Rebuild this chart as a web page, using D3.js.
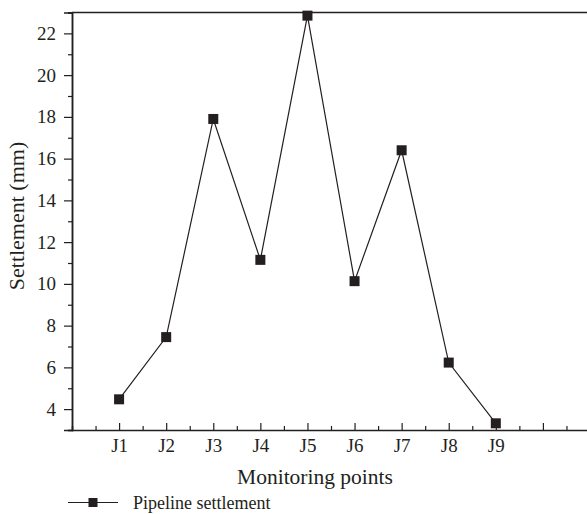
<!DOCTYPE html>
<html>
<head>
<meta charset="utf-8">
<script src="https://cdn.jsdelivr.net/npm/d3@7"></script>
<style>
  body { margin: 0; background: #fff; }
  text { font-family: "Liberation Serif", "DejaVu Serif", serif; fill: #231f20; }
</style>
</head>
<body>
<div id="chart"></div>
<script>
// monitoring points and measured settlement (mm)
const points = ["J1", "J2", "J3", "J4", "J5", "J6", "J7", "J8", "J9"];
const settlement = [4.47, 7.45, 17.9, 11.15, 22.85, 10.13, 16.4, 6.23, 3.32];
const yTicks = [4, 6, 8, 10, 12, 14, 16, 18, 20, 22];

const width = 587, height = 514;
const ink = "#231f20";

const svg = d3.select("#chart").append("svg")
    .attr("width", width)
    .attr("height", height);

// x: category index, 0 at left axis, plot runs past the right edge
const x = d3.scaleLinear().domain([0, 11]).range([72, 590]);
const y = d3.scaleLinear().domain([3, 23]).range([430, 12.5]);

const data = points.map((p, i) => ({ name: p, idx: i + 1, value: settlement[i] }));

// minor ticks
const xMinor = d3.range(0.5, 11, 1);
const yMinor = d3.range(3, 24, 2);

// bottom axis: ticks pointing inward
const gx = svg.append("g").attr("transform", `translate(0,${y(3)})`);
gx.call(d3.axisBottom(x).tickValues(xMinor).tickSize(-4).tickFormat(""));
gx.append("g").call(d3.axisBottom(x)
    .tickValues(d3.range(1, 11))
    .tickSize(-7)
    .tickPadding(9)
    .tickFormat(d => points[d - 1] || ""));
gx.selectAll(".domain").attr("stroke", ink).attr("stroke-width", 1.5);
gx.selectAll(".tick line").attr("stroke", ink).attr("stroke-width", 1.2);
gx.selectAll("text").attr("font-size", 19).attr("dy", "0.71em");
gx.selectAll(".domain").filter((d, i) => i > 0).remove();

// left axis: ticks pointing outward
const gy = svg.append("g").attr("transform", `translate(${x(0)},0)`);
gy.call(d3.axisLeft(y).tickValues(yMinor).tickSize(4).tickFormat(""));
gy.append("g").call(d3.axisLeft(y)
    .tickValues(yTicks)
    .tickSize(8)
    .tickPadding(8));
gy.selectAll(".domain").attr("stroke", ink).attr("stroke-width", 1.5);
gy.selectAll(".tick line").attr("stroke", ink).attr("stroke-width", 1.2);
gy.selectAll("text").attr("font-size", 19);

// top frame line
svg.append("line")
    .attr("x1", x(0)).attr("x2", width)
    .attr("y1", y(23)).attr("y2", y(23))
    .attr("stroke", ink).attr("stroke-width", 1.5);

// axis titles
svg.append("text")
    .attr("x", 315).attr("y", 484)
    .attr("text-anchor", "middle")
    .attr("font-size", 21.5)
    .text("Monitoring points");

svg.append("text")
    .attr("transform", `translate(24,216) rotate(-90)`)
    .attr("text-anchor", "middle")
    .attr("font-size", 22)
    .text("Settlement (mm)");

// series line
const line = d3.line().x(d => x(d.idx)).y(d => y(d.value));
svg.append("path")
    .datum(data)
    .attr("fill", "none")
    .attr("stroke", ink)
    .attr("stroke-width", 1.2)
    .attr("d", line);

// square markers
const ms = 10;
svg.selectAll(".marker")
    .data(data)
    .enter().append("rect")
    .attr("class", "marker")
    .attr("x", d => x(d.idx) - ms / 2)
    .attr("y", d => y(d.value) - ms / 2)
    .attr("width", ms)
    .attr("height", ms)
    .attr("fill", ink);

// legend
const legend = svg.append("g").attr("transform", "translate(68,502.5)");
legend.append("line")
    .attr("x1", 0).attr("x2", 50)
    .attr("stroke", ink).attr("stroke-width", 1.2);
legend.append("rect")
    .attr("x", 25 - 4.5).attr("y", -4.5)
    .attr("width", 9).attr("height", 9)
    .attr("fill", ink);
legend.append("text")
    .attr("x", 65).attr("y", 6.5)
    .attr("font-size", 18)
    .text("Pipeline settlement");
</script>
</body>
</html>
